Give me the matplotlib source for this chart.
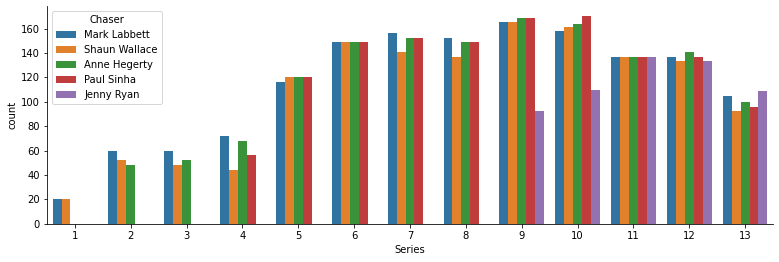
"""Grouped bar chart of episode counts per series, split by chaser."""

import colorsys

import matplotlib
matplotlib.use("Agg")
import matplotlib.colors as mcolors
import matplotlib.pyplot as plt
import numpy as np

series = ["1", "2", "3", "4", "5", "6", "7", "8", "9", "10", "11", "12", "13"]
chasers = ["Mark Labbett", "Shaun Wallace", "Anne Hegerty", "Paul Sinha", "Jenny Ryan"]

mark_labbett = [20, 60, 60, 72, 116, 149, 156, 152, 165, 158, 137, 137, 105]
shaun_wallace = [20, 52, 48, 44, 120, 149, 141, 137, 165, 161, 137, 133, 92]
anne_hegerty = [0, 48, 52, 68, 120, 149, 152, 149, 169, 164, 137, 141, 100]
paul_sinha = [0, 0, 0, 56, 120, 149, 152, 149, 169, 170, 137, 137, 96]
jenny_ryan = [0, 0, 0, 0, 0, 0, 0, 0, 92, 110, 137, 133, 109]

counts = [mark_labbett, shaun_wallace, anne_hegerty, paul_sinha, jenny_ryan]


def desaturate(color, prop=0.75):
    r, g, b = mcolors.to_rgb(color)
    h, l, s = colorsys.rgb_to_hls(r, g, b)
    return colorsys.hls_to_rgb(h, l, s * prop)


base_colors = ["#1f77b4", "#ff7f0e", "#2ca02c", "#d62728", "#9467bd"]
colors = [desaturate(c) for c in base_colors]

fig = plt.figure(figsize=(779 / 72, 262 / 72), dpi=72)
ax = fig.add_axes([47 / 779, 1 - 223.7 / 262, (773 - 47) / 779, (223.7 - 6) / 262])

x = np.arange(len(series))
n = len(chasers)
width = 0.8 / n
for i, (name, vals) in enumerate(zip(chasers, counts)):
    offset = -0.4 + width * (i + 0.5)
    ax.bar(x + offset, vals, width=width, color=colors[i], label=name, linewidth=0)

ax.set_xticks(x)
ax.set_xticklabels(series)
ax.set_xlim(-0.5, len(series) - 0.5)
ax.set_ylim(0, 170 * 1.05)
ax.set_yticks(range(0, 161, 20))
ax.set_xlabel("Series")
ax.set_ylabel("count")
ax.spines["top"].set_visible(False)
ax.spines["right"].set_visible(False)
ax.legend(title="Chaser", loc="upper left")

fig.savefig("out.png", dpi=72)
